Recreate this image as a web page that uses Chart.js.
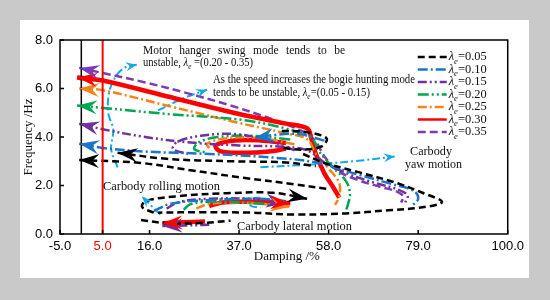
<!DOCTYPE html>
<html>
<head>
<meta charset="utf-8">
<script src="https://cdn.jsdelivr.net/npm/chart.js@4.4.0/dist/chart.umd.min.js"></script>
<style>
  html, body { margin: 0; padding: 0; background: #c9c9c9; }
  #panel { position: absolute; left: 20px; top: 20px; width: 509px; height: 258px; background: #fff; }
  canvas { display: block; }
</style>
</head>
<body>
<div id="panel"><canvas id="chart" width="509" height="258"></canvas></div>
<script>
// ---- values: [damping %, frequency Hz] ----
const lamLabels = ['0.05', '0.10', '0.15', '0.20', '0.25', '0.30', '0.35'];
const xTicks = [-5, 5, 16, 37, 58, 79, 100];
const yTicks = [0, 2, 4, 6, 8];
const refLines = [0, 5];

// λe = 0.05
const swing05 = [[-0.5, 3.05], [14, 2.93], [26, 2.62], [38, 2.32], [50, 2.05], [58, 1.85]];
const swing05b = [[8.5, 3.35], [20, 3.1], [35, 3.0], [48, 2.95], [55, 2.8]];
const hunt05 = [[47, 4.25], [53, 4.2], [57.5, 3.95], [56.5, 3.62], [52, 3.48], [47, 3.55]];
const yaw05 = [[52, 3.3], [57, 2.93], [65, 2.55], [74, 2.1], [80, 1.7], [84.6, 1.32], [80, 1.1], [72, 0.98], [62, 0.85], [50, 0.8], [40, 0.88], [28, 0.9], [18, 0.88]];
const lateral05 = [[17, 0.88], [14.3, 1.1], [15, 1.35], [22, 1.55], [34, 1.68], [45, 1.7], [53, 1.45]];
const rolling05 = [[14, 0.58], [20, 0.45], [28, 0.45], [35, 0.55]];

// λe = 0.10
const swing10 = [[-0.5, 3.72], [5, 3.55], [15, 3.4], [30, 3.3], [45, 3.15], [55, 2.95], [65, 2.45], [73, 2.05], [78, 1.78], [79, 1.45], [77.5, 1.15]];
const hunt10 = [[57, 3.85], [51, 4.12], [45, 4.08], [40.5, 3.95]];
const lateral10 = [[17, 0.95], [21, 1.25], [30, 1.4], [42, 1.45], [48, 1.35]];

// λe = 0.15
const swing15 = [[-0.5, 4.55], [5, 4.32], [15, 4.0], [25, 3.78], [37, 3.65], [47, 3.6], [53, 3.45], [57, 2.95], [63, 2.45], [69, 2.1], [74, 1.85], [76.5, 1.6], [76, 1.3]];
const hunt15 = [[50, 3.45], [44, 3.85], [36, 4.12], [28, 4.05], [22.5, 3.8], [21.5, 3.5], [25, 3.3]];
const lateral15 = [[20, 1.05], [23, 1.32], [30, 1.45], [40, 1.45], [48, 1.28]];
const rolling15 = [[30, 0.38], [24, 0.35], [19, 0.33]];

// λe = 0.20
const swing20 = [[-1, 5.3], [5, 5.2], [20, 4.95], [37, 4.72], [48, 4.35], [54, 3.95], [56, 3.35], [59, 2.75], [62, 2.2], [63, 1.7], [62.5, 1.2], [62, 0.95]];
const hunt20 = [[49, 3.9], [40, 4.05], [32, 4.0], [27.5, 3.78], [26.5, 3.5], [29.5, 3.35]];
const lateral20 = [[24, 1.0], [25.5, 1.22], [30, 1.33], [38, 1.3], [45, 1.2]];

// λe = 0.25
const swing25 = [[-0.5, 6.0], [5, 5.93], [20, 5.3], [36, 4.62], [48, 4.15], [53, 3.9], [55, 3.3], [58, 2.7], [60.5, 2.1], [60.5, 1.55], [59.5, 1.2]];
const hunt25 = [[50, 3.7], [42, 3.95], [34, 3.95], [29.5, 3.72], [30.5, 3.45]];
const lateral25 = [[27, 1.05], [29.5, 1.22], [36, 1.3], [44, 1.22], [49, 1.12]];

// λe = 0.30
const swing30 = [[-1, 6.45], [5, 6.33], [20, 5.68], [37, 4.95], [48, 4.55], [53, 4.35], [54, 3.9], [55, 3.3], [57, 2.5], [59, 1.95], [60.5, 1.5]];
const hunt30 = [[48, 3.75], [42, 3.86], [36, 3.86], [31.5, 3.66], [32.5, 3.42], [38, 3.35], [44, 3.4], [48, 3.52]];
const lateral30 = [[30, 1.15], [33, 1.3], [38, 1.33], [44, 1.31], [49, 1.27]];
const rolling30 = [[29, 0.52], [24, 0.48], [19, 0.44]];

// λe = 0.35
const swing35 = [[-0.5, 6.85], [5, 6.64], [15, 6.25], [25, 5.8], [35, 5.3], [45, 4.72], [52, 4.22], [55, 3.8], [57, 3.2], [60, 2.62], [65, 2.22], [70, 1.95], [74, 1.75], [75.5, 1.55], [75, 1.3]];

// annotation pointers
const noteSwing = [[8.5, 2.75], [7, 3.5], [7.5, 4.3], [6.3, 5.0], [6.6, 5.9], [8.5, 6.6], [10.6, 6.9], [13, 6.98]];
const noteHunt = [[18, 5.1], [24, 5.6], [29.5, 5.95]];
const noteYaw = [[42, 2.75], [55, 2.88], [65, 3.02], [73.5, 3.2]];
const noteRoll = [[18.5, 0.8], [16.5, 1.15], [14.2, 1.55]];
const noteCircle = [[42, 1.5], [40, 1.46], [39.3, 1.3], [40, 1.14], [42, 1.1]];

// ---- styles ----
const lamColors = ['#000000', '#1b75c9', '#7030a0', '#00a651', '#f7821b', '#ff0000', '#7d3cb5'];
const lamDashes = [[7, 4], [10, 3, 2, 3], [9, 3, 2, 3, 2, 3], [11, 3, 2, 3, 2, 3], [9, 3, 2, 3], [], [8, 4]];
const lamWidths = [2.5, 2.5, 2.5, 2.5, 2.5, 4.5, 2.5];
const noteColor = '#14a9e6';
const serif = '"Liberation Serif", "Times New Roman", serif';
const sans = '"Liberation Sans", Arial, sans-serif';

const curves = [
  [swing05, 0, 'start'], [swing05b, 0, 'start'], [hunt05, 0], [yaw05, 0], [lateral05, 0, 'end'], [rolling05, 0],
  [swing10, 1, 'start'], [hunt10, 1, 'end'], [lateral10, 1],
  [swing15, 2, 'start'], [hunt15, 2], [lateral15, 2, 'end'], [rolling15, 2, 'end'],
  [swing20, 3, 'start'], [hunt20, 3], [lateral20, 3],
  [swing25, 4, 'start'], [hunt25, 4], [lateral25, 4, 'end'],
  [swing30, 5, 'start'], [hunt30, 5], [lateral30, 5, 'end'], [rolling30, 5, 'end'],
  [swing35, 6, 'start']
];
const pointers = [[noteSwing, 'end'], [noteHunt, 'end'], [noteYaw, 'end'], [noteRoll, 'end'], [noteCircle]];

const notes = [
  { text: 'Motor hanger swing mode tends to be', x: 123, y: 31, w: 202, justify: true },
  { text: 'unstable, λe =(0.20 - 0.35)', x: 123, y: 43, w: 110 },
  { text: 'As the speed increases the bogie hunting mode', x: 193, y: 60, w: 202 },
  { text: 'tends to be unstable, λe=(0.05 - 0.15)', x: 193, y: 73, w: 157 },
  { text: 'Carbody', x: 390, y: 132, w: 42 },
  { text: 'yaw motion', x: 385, y: 145, w: 57 },
  { text: 'Carbody rolling motion', x: 83, y: 167, w: 117 },
  { text: 'Carbody lateral motion', x: 217, y: 207, w: 115 }
];

const pts = arr => arr.map(([x, y]) => ({ x, y }));

const datasets = [];
refLines.forEach((v, i) => datasets.push({
  data: [{ x: v, y: yTicks[0] }, { x: v, y: yTicks[yTicks.length - 1] }],
  borderColor: i ? '#ff0000' : '#000000',
  borderWidth: i ? 2 : 1.5,
  showLine: true,
  pointRadius: 0
}));
curves.forEach(([arr, k, arrow]) => datasets.push({
  data: pts(arr),
  borderColor: lamColors[k],
  borderDash: lamDashes[k],
  borderWidth: lamWidths[k],
  showLine: true,
  tension: 0.35,
  pointRadius: 0,
  arrow: arrow,
  arrowSize: 'big'
}));
pointers.forEach(([arr, arrow]) => datasets.push({
  data: pts(arr),
  borderColor: noteColor,
  borderDash: [8, 3, 2, 3],
  borderWidth: 2,
  showLine: true,
  tension: 0.35,
  pointRadius: 0,
  arrow: arrow,
  arrowSize: 'small'
}));

// ---- drawing helpers ----
function drawRich(ctx, text, x, y, size, width) {
  const pieces = [];
  text.split('λe').forEach((chunk, i) => {
    if (i > 0) {
      pieces.push({ t: 'λ', f: `italic ${size}px ${serif}`, dy: 0 });
      pieces.push({ t: 'e', f: `italic ${Math.round(size * 0.68)}px ${serif}`, dy: size * 0.32 });
    }
    if (chunk) pieces.push({ t: chunk, f: `${size}px ${serif}`, dy: 0 });
  });
  ctx.save();
  ctx.fillStyle = '#111';
  ctx.textBaseline = 'middle';
  let total = 0;
  pieces.forEach(p => { ctx.font = p.f; p.w = ctx.measureText(p.t).width; total += p.w; });
  ctx.translate(x, y);
  if (width) ctx.scale(width / total, 1);
  let cx = 0;
  pieces.forEach(p => { ctx.font = p.f; ctx.fillText(p.t, cx, p.dy); cx += p.w; });
  ctx.restore();
}

function drawJustified(ctx, text, x, y, size, width) {
  const words = text.split(' ');
  ctx.save();
  ctx.font = `${size}px ${serif}`;
  ctx.fillStyle = '#111';
  ctx.textBaseline = 'middle';
  const ws = words.map(w => ctx.measureText(w).width);
  const gap = (width - ws.reduce((s, w) => s + w, 0)) / (words.length - 1);
  let cx = x;
  words.forEach((w, i) => { ctx.fillText(w, cx, y); cx += ws[i] + gap; });
  ctx.restore();
}

function drawArrow(ctx, tip, from, color, big) {
  const len = big ? 20 : 11, half = big ? 7 : 4.5, notch = big ? 13 : 7;
  const ang = Math.atan2(tip.y - from.y, tip.x - from.x);
  ctx.save();
  ctx.translate(tip.x, tip.y);
  ctx.rotate(ang);
  ctx.fillStyle = color;
  ctx.beginPath();
  ctx.moveTo(0, 0);
  ctx.lineTo(-len, -half);
  ctx.lineTo(-notch, 0);
  ctx.lineTo(-len, half);
  ctx.closePath();
  ctx.fill();
  ctx.restore();
}

// ---- plugins ----
const arrowHeads = {
  id: 'arrowHeads',
  afterDatasetsDraw(chart) {
    const ctx = chart.ctx;
    chart.data.datasets.forEach((ds, i) => {
      if (!ds.arrow) return;
      const el = chart.getDatasetMeta(i).data;
      const n = el.length;
      if (ds.arrow === 'start') drawArrow(ctx, el[0], el[1], ds.borderColor, ds.arrowSize === 'big');
      else drawArrow(ctx, el[n - 1], el[n - 2], ds.borderColor, ds.arrowSize === 'big');
    });
  }
};

const frame = {
  id: 'frame',
  afterDatasetsDraw(chart) {
    const { ctx, chartArea: a, scales } = chart;
    ctx.save();
    ctx.strokeStyle = '#000';
    ctx.lineWidth = 1.5;
    ctx.strokeRect(a.left, a.top, a.right - a.left, a.bottom - a.top);
    ctx.beginPath();
    xTicks.forEach(v => {
      const px = scales.x.getPixelForValue(v);
      ctx.moveTo(px, a.bottom); ctx.lineTo(px, a.bottom - 4);
    });
    yTicks.forEach(v => {
      const py = scales.y.getPixelForValue(v);
      ctx.moveTo(a.left, py); ctx.lineTo(a.left + 4, py);
    });
    ctx.stroke();
    ctx.restore();
  }
};

const texts = {
  id: 'texts',
  afterDraw(chart) {
    const { ctx, chartArea: a } = chart;
    notes.forEach(n => {
      if (n.justify) drawJustified(ctx, n.text, n.x, n.y, 11.5, n.w);
      else drawRich(ctx, n.text, n.x, n.y, 11.5, n.w);
    });

    // legend
    lamLabels.forEach((lab, i) => {
      const y = a.top + 17 + i * 12.5;
      const x0 = a.right - 90;
      ctx.save();
      ctx.strokeStyle = lamColors[i];
      ctx.lineWidth = i === 5 ? 2.5 : 2.5;
      ctx.setLineDash(lamDashes[i]);
      ctx.beginPath(); ctx.moveTo(x0, y); ctx.lineTo(x0 + 29, y); ctx.stroke();
      ctx.restore();
      drawRich(ctx, 'λe=' + lab, x0 + 31, y, 13, 38);
    });

    // axis titles
    ctx.save();
    ctx.fillStyle = '#111';
    ctx.font = `13px ${serif}`;
    ctx.textAlign = 'center';
    ctx.textBaseline = 'middle';
    ctx.fillText('Damping /%', (a.left + a.right) / 2 + 3, a.bottom + 23);
    ctx.translate(9, (a.top + a.bottom) / 2);
    ctx.rotate(-Math.PI / 2);
    ctx.fillText('Frequency /Hz', 0, 0);
    ctx.restore();
  }
};

new Chart(document.getElementById('chart'), {
  type: 'scatter',
  data: { datasets },
  options: {
    responsive: false,
    animation: false,
    layout: { padding: { left: 0, top: 20, right: 18, bottom: 0 } },
    plugins: { legend: { display: false }, tooltip: { enabled: false } },
    scales: {
      x: {
        type: 'linear',
        min: xTicks[0],
        max: xTicks[xTicks.length - 1],
        afterBuildTicks: axis => { axis.ticks = xTicks.map(v => ({ value: v })); },
        afterFit: axis => { axis.height = 44; },
        grid: { display: false, drawTicks: false },
        border: { display: false },
        ticks: {
          autoSkip: false,
          maxRotation: 0,
          padding: 5,
          font: { family: sans, size: 13 },
          color: c => (c.tick && c.tick.value === 5 ? '#ff0000' : '#000'),
          callback: v => v.toFixed(1)
        }
      },
      y: {
        min: yTicks[0],
        max: yTicks[yTicks.length - 1],
        afterBuildTicks: axis => { axis.ticks = yTicks.map(v => ({ value: v })); },
        afterFit: axis => { axis.width = 40; },
        grid: { display: false, drawTicks: false },
        border: { display: false },
        ticks: {
          padding: 7,
          font: { family: sans, size: 13 },
          color: '#000',
          callback: v => v.toFixed(1)
        }
      }
    }
  },
  plugins: [arrowHeads, frame, texts]
});
</script>
</body>
</html>
